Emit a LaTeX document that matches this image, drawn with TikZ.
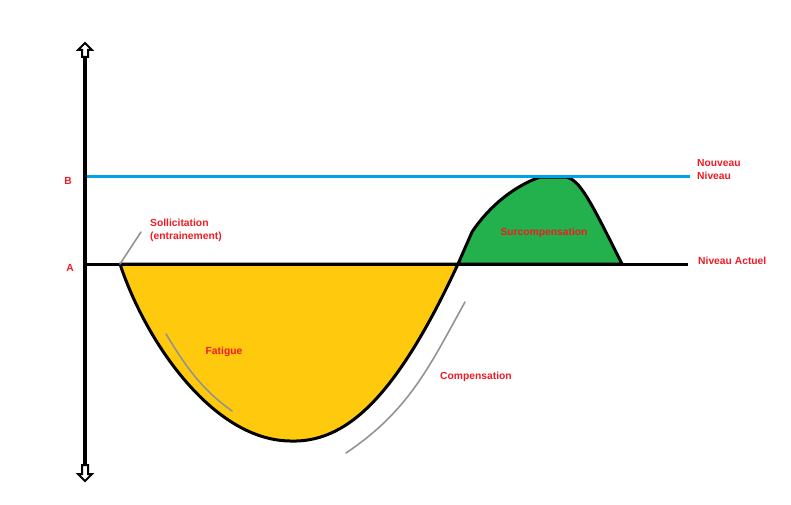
\documentclass[tikz,border=0pt]{standalone}
\usepackage{fontspec}
\setmainfont{Liberation Sans}
\begin{document}
\begin{tikzpicture}[x=1pt,y=-1pt,
  lbl/.style={text=labelred,font=\bfseries\fontsize{10.3}{13}\selectfont,inner sep=0pt},
  curveline/.style={line width=3pt,draw=black,line join=round},
  pointer/.style={line width=1.6pt,draw=gray!85,line cap=round},
  openarrow/.style={draw=black,line width=2pt,fill=white,line join=miter}]
\definecolor{labelred}{RGB}{237,28,36}
\definecolor{cyanline}{RGB}{0,162,232}
\definecolor{fatigueyellow}{RGB}{255,201,14}
\definecolor{surgreen}{RGB}{34,177,76}
\useasboundingbox (0,0) rectangle (791,505);
% coordinates
\coordinate (s) at (120,264);
\coordinate (m) at (290,441);
\coordinate (c) at (458,264);
\coordinate (e) at (622,264);
% fatigue area
\filldraw[fill=fatigueyellow,curveline] (s) .. controls (145,340) and (212,440) .. (m)
  .. controls (345,443) and (395,400) .. (c) -- cycle;
% surcompensation area
\filldraw[fill=surgreen,curveline] (c) -- (472,232) .. controls (490,205) and (515,186) .. (540,177)
  -- (566,177) .. controls (580,180) and (590,200) .. (e) -- cycle;
% level lines
\coordinate (b0) at (85,176); \coordinate (b1) at (690,176);
\coordinate (a0) at (85,264); \coordinate (a1) at (688,264);
\draw[line width=3pt,cyanline] (b0) -- (b1);
\draw[line width=3pt,black] (a0) -- (a1);
% axis
\coordinate (top) at (85,56); \coordinate (bot) at (85,466);
\draw[line width=3.5pt] (top) -- (bot);
\filldraw[openarrow] (85,43) -- (92,50) -- (88,50) -- (88,57) -- (82,57) -- (82,50) -- (78,50) -- cycle;
\filldraw[openarrow] (85,481) -- (92,474) -- (88,474) -- (88,465) -- (82,465) -- (82,474) -- (78,474) -- cycle;
% pointers
\coordinate (p1) at (141,232);
\draw[pointer] (s) -- (p1);
\coordinate (f0) at (166,334); \coordinate (f1) at (232,411);
\draw[pointer] (f0) .. controls (185,365) and (200,388) .. (f1);
\coordinate (k0) at (465,302); \coordinate (k1) at (346,453);
\draw[pointer] (k0) .. controls (430,365) and (410,410) .. (k1);
% labels
\node[lbl] (lB) at (68,181) {B};
\node[lbl] (lA) at (70,268) {A};
\node[lbl,anchor=west,align=left] (lsol) at (150,230) {Sollicitation\\(entrainement)};
\node[lbl] (lfat) at (224,352) {Fatigue};
\node[lbl,anchor=west] (lcomp) at (440,377) {Compensation};
\node[lbl] (lsur) at (544,233) {Surcompensation};
\node[lbl,anchor=west,align=left] (lnn) at (697,170) {Nouveau\\Niveau};
\node[lbl,anchor=west] (lna) at (698,261) {Niveau Actuel};
\end{tikzpicture}
\end{document}
